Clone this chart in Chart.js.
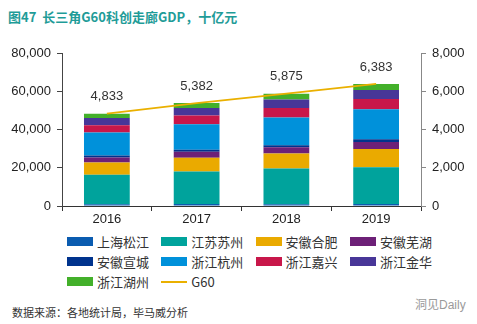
<!DOCTYPE html>
<html>
<head>
<meta charset="utf-8">
<script src="https://cdn.jsdelivr.net/npm/chart.js@4.4.1/dist/chart.umd.min.js"></script>
<style>
  body { margin: 0; width: 477px; height: 324px; background: #fff; position: relative; overflow: hidden;
         font-family: "Noto Sans CJK SC", "Liberation Sans", sans-serif; color: #333; }
  #title { position: absolute; left: 8px; top: 7px; font-size: 13px; font-weight: bold; color: #1f9c98; white-space: nowrap; }
  #wrap { position: absolute; left: 0; top: 30px; width: 477px; height: 200px; }
  #legend { position: absolute; left: 67px; top: 232px; width: 400px; }
  .item { position: absolute; display: flex; align-items: center; font-size: 13px; color: #333; white-space: nowrap; }
  .sw { width: 26px; height: 9px; margin-right: 4px; }
  .ln { width: 26px; height: 2px; margin-right: 4px; }
  #source { position: absolute; left: 12px; top: 304px; font-size: 11px; color: #333; }
  #mark { position: absolute; left: 415px; top: 295px; font-size: 12px; color: #9a9a9a; font-family: "Liberation Sans", "Noto Sans CJK SC", sans-serif; }
</style>
</head>
<body>
<div id="title">图47&nbsp;&nbsp;长三角G60科创走廊GDP，十亿元</div>
<div id="wrap"><canvas id="chart" width="477" height="200"></canvas></div>
<div id="legend"></div>
<div id="source">数据来源：各地统计局，毕马威分析</div>
<div id="mark">洞见Daily</div>
<script>
const years = ["2016", "2017", "2018", "2019"];

const cityNames = ["上海松江", "江苏苏州", "安徽合肥", "安徽芜湖", "安徽宣城", "浙江杭州", "浙江嘉兴", "浙江金华", "浙江湖州"];
const songjiang = [900, 1000, 900, 1000];
const suzhou = [15500, 17000, 18700, 19300];
const hefei = [6300, 7200, 7800, 9500];
const wuhu = [2700, 3200, 3300, 3600];
const xuancheng = [1000, 1000, 1100, 1500];
const hangzhou = [12000, 13400, 14500, 15700];
const jiaxing = [3800, 4500, 4900, 5300];
const jinhua = [3800, 3900, 4500, 4700];
const huzhou = [2300, 2600, 3000, 3200];
const g60 = [4833, 5382, 5875, 6383];

const leftTicks = [0, 20000, 40000, 60000, 80000];
const rightTicks = [0, 2000, 4000, 6000, 8000];

const cityValues = [songjiang, suzhou, hefei, wuhu, xuancheng, hangzhou, jiaxing, jinhua, huzhou];
const cityColors = ["#0b5cb0", "#00a39c", "#eaaa00", "#6d2077", "#00338d", "#0091da", "#c8174a", "#483698", "#43b02a"];
const lineColor = "#eab000";

const tickFont = { family: "Liberation Sans", size: 13 };

const barSets = cityNames.map((name, i) => ({
  type: "bar",
  label: name,
  data: cityValues[i],
  backgroundColor: cityColors[i],
  borderWidth: 0,
  yAxisID: "y",
  stack: "gdp",
  order: 1,
  barPercentage: 0.51,
  categoryPercentage: 1
}));

const lineSet = {
  type: "line",
  label: "G60",
  data: g60,
  borderColor: lineColor,
  borderWidth: 1.8,
  pointRadius: 0,
  yAxisID: "y2",
  order: 0
};

const lineLabels = {
  id: "lineLabels",
  afterDatasetsDraw(chart) {
    const ctx = chart.ctx;
    const idx = chart.data.datasets.indexOf(lineSet);
    const meta = chart.getDatasetMeta(idx);
    ctx.save();
    ctx.font = "13px 'Liberation Sans'";
    ctx.fillStyle = "#333";
    ctx.textAlign = "center";
    ctx.textBaseline = "middle";
    meta.data.forEach((pt, i) => {
      ctx.fillText(g60[i].toLocaleString("en-US"), pt.x, pt.y - 17);
    });
    ctx.restore();
  }
};

const chart = new Chart(document.getElementById("chart"), {
  data: { labels: years, datasets: [...barSets, lineSet] },
  options: {
    responsive: false,
    animation: false,
    devicePixelRatio: 1,
    layout: { padding: { top: 23, left: 0, right: 0, bottom: 0 } },
    plugins: { legend: { display: false }, tooltip: { enabled: false } },
    scales: {
      x: {
        stacked: true,
        grid: { drawOnChartArea: false, offset: true, tickLength: 5, color: "#333" },
        border: { color: "#333", width: 1 },
        ticks: { font: tickFont, color: "#222", padding: 1 },
        afterFit: s => { s.height = 24; }
      },
      y: {
        stacked: true,
        position: "left",
        min: 0, max: 80000,
        afterBuildTicks: s => { s.ticks = leftTicks.map(v => ({ value: v })); },
        grid: { drawOnChartArea: false, tickLength: 5, color: "#444" },
        border: { color: "#444", width: 1 },
        ticks: { font: tickFont, color: "#222", padding: 6, callback: v => v.toLocaleString("en-US") },
        afterFit: s => { s.width = 62; }
      },
      y2: {
        position: "right",
        min: 0, max: 8000,
        afterBuildTicks: s => { s.ticks = rightTicks.map(v => ({ value: v })); },
        grid: { drawOnChartArea: false, tickLength: 5, color: "#888" },
        border: { color: "#888", width: 1 },
        ticks: { font: tickFont, color: "#222", padding: 6, callback: v => v.toLocaleString("en-US") },
        afterFit: s => { s.width = 56; }
      }
    }
  },
  plugins: [lineLabels]
});

// legend laid out in 4 columns like the original
const legendEl = document.getElementById("legend");
const entries = chart.data.datasets.map(ds => ({ label: ds.label, color: ds.type === "line" ? ds.borderColor : ds.backgroundColor, line: ds.type === "line" }));
entries.forEach((e, i) => {
  const div = document.createElement("div");
  div.className = "item";
  div.style.left = (i % 4) * 94.3 + "px";
  div.style.top = Math.floor(i / 4) * 20.2 + "px";
  const sw = document.createElement("span");
  sw.className = e.line ? "ln" : "sw";
  sw.style.background = e.color;
  const tx = document.createElement("span");
  tx.textContent = e.label;
  div.appendChild(sw);
  div.appendChild(tx);
  legendEl.appendChild(div);
});
</script>
</body>
</html>
